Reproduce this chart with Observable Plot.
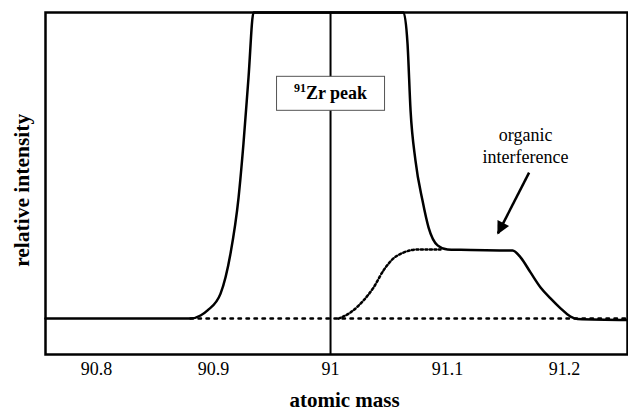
<!DOCTYPE html>
<html>
<head>
<meta charset="utf-8">
<script src="https://cdn.jsdelivr.net/npm/d3@7"></script>
<script src="https://cdn.jsdelivr.net/npm/@observablehq/plot@0.6"></script>
<style>
  html, body { margin: 0; padding: 0; background: #fff; }
  svg text { font-family: "Liberation Serif", "Times New Roman", "DejaVu Serif", serif !important; }
</style>
</head>
<body>
<div id="chart"></div>
<script>
// Measured signal (solid): atomic mass vs relative intensity (clipped at 100)
const solidMass = [90.7564, 90.8803, 90.8889, 90.8949, 90.9060, 90.9145, 90.9214, 90.9256, 90.9299, 90.9342,
  91.0624, 91.0658, 91.0684, 91.0726, 91.0786, 91.0838, 91.0915, 91.1000, 91.1111, 91.1556,
  91.1624, 91.1709, 91.1795, 91.1880, 91.1966, 91.2051, 91.2111, 91.2538];
const solidIntensity = [10.5, 10.5, 11.4, 12.9, 17.8, 29.5, 45.9, 61.7, 81.0, 100,
  100, 90.9, 71.3, 56.7, 45.0, 37.1, 31.9, 30.7, 30.6, 30.4,
  28.4, 24.0, 19.6, 16.4, 13.5, 11.1, 10.4, 10.1];

// Organic interference (dotted rising part)
const organicMass = [91.0068, 91.0171, 91.0282, 91.0368, 91.0453, 91.0538, 91.0624, 91.0744, 91.0940];
const organicIntensity = [10.5, 12.3, 15.8, 19.6, 24.6, 28.1, 29.8, 30.7, 30.7];

// Background (dotted baseline)
const baselineMass = [90.8803, 91.2538];
const baselineIntensity = [10.5, 10.5];

const xTicks = [90.8, 90.9, 91, 91.1, 91.2];
const xDomain = [90.7564, 91.2538];
const peakMass = 91;

// annotations
const peakLabel = {x: 91, y: 76.3, text: "Zr peak", sup: "91"};
const organicLabel = {x: 91.1667, y: 61.4, text: "organic\ninterference"};
const arrowData = [{x1: 91.1697, y1: 53.2, x2: 91.1431, y2: 35.4}];

const solid = solidMass.map((m, i) => ({m, v: solidIntensity[i]}));
const organic = organicMass.map((m, i) => ({m, v: organicIntensity[i]}));
const baseline = baselineMass.map((m, i) => ({m, v: baselineIntensity[i]}));

const serif = "Liberation Serif";

const chart = Plot.plot({
  width: 628,
  height: 410,
  marginLeft: 45,
  marginRight: 1,
  marginTop: 12,
  marginBottom: 56,
  style: {fontFamily: serif, background: "#fff", color: "#000", overflow: "visible"},
  x: {domain: xDomain},
  y: {domain: [0, 100], axis: null},
  marks: [
    Plot.axisX({ticks: xTicks, tickSize: 0, tickPadding: 8, fontSize: 18, fontFamily: serif, label: null, tickFormat: d => String(d)}),
    Plot.ruleX([peakMass], {stroke: "#000", strokeWidth: 2}),
    Plot.line(baseline, {x: "m", y: "v", stroke: "#000", strokeWidth: 2.5, strokeDasharray: "2.5,5.5"}),
    Plot.line(organic, {x: "m", y: "v", stroke: "#000", strokeWidth: 2.5, strokeDasharray: "2,2.5", curve: "monotone-x"}),
    Plot.line(solid, {x: "m", y: "v", stroke: "#000", strokeWidth: 2.5, curve: "monotone-x"}),
    Plot.frame({stroke: "#000", strokeWidth: 2.5}),
    Plot.link(arrowData, {x1: "x1", y1: "y1", x2: "x2", y2: "y2", stroke: "#000", strokeWidth: 2.5}),
    Plot.text([organicLabel], {x: "x", y: "y", text: "text", fontSize: 18, fontFamily: serif, lineHeight: 1.22, fill: "#000"}),
    Plot.text([peakLabel], {x: "x", y: "y", text: "text", fontSize: 18, fontFamily: serif, fontWeight: "bold", fill: "#000"}),
    Plot.text(["relative intensity"], {frameAnchor: "left", y: [48], text: d => d, rotate: -90, dx: -23, textAnchor: "middle", fontSize: 21.5, fontFamily: serif, fontWeight: "bold", fill: "#000"}),
    Plot.text(["atomic mass"], {frameAnchor: "bottom", text: d => d, dy: 52, dx: 8, fontSize: 21, fontFamily: serif, fontWeight: "bold", fill: "#000"})
  ]
});

document.getElementById("chart").appendChild(chart);

const svg = d3.select(chart);

// filled arrowhead marker
const defs = svg.insert("defs", ":first-child");
defs.append("marker")
  .attr("id", "arrowhead")
  .attr("viewBox", "0 0 10 10")
  .attr("refX", 9)
  .attr("refY", 5)
  .attr("markerUnits", "userSpaceOnUse")
  .attr("markerWidth", 16)
  .attr("markerHeight", 13)
  .attr("orient", "auto")
  .append("path")
  .attr("d", "M0,0L10,5L0,10z")
  .attr("fill", "#000");
svg.selectAll('g[aria-label="link"] path').attr("marker-end", "url(#arrowhead)");

// superscript + box for peak label
const labelText = svg.selectAll("text").filter(function () { return this.textContent === peakLabel.text; });
if (!labelText.empty()) {
  labelText.text(null);
  labelText.append("tspan").attr("font-size", 12).attr("dy", "-7").text(peakLabel.sup);
  labelText.append("tspan").attr("font-size", 18).attr("dy", "7").text(peakLabel.text);
  const node = labelText.node();
  const bb = node.getBBox();
  const cx = bb.x + bb.width / 2;
  const cy = bb.y + bb.height / 2;
  const boxW = 108, boxH = 34;
  const rect = document.createElementNS("http://www.w3.org/2000/svg", "rect");
  rect.setAttribute("x", cx - boxW / 2);
  rect.setAttribute("y", cy - boxH / 2 + 1);
  rect.setAttribute("width", boxW);
  rect.setAttribute("height", boxH);
  rect.setAttribute("fill", "#fff");
  rect.setAttribute("stroke", "#555");
  rect.setAttribute("stroke-width", 1);
  const tf = node.getAttribute("transform");
  if (tf) rect.setAttribute("transform", tf);
  if (!tf) {
    rect.setAttribute("x", (+node.getAttribute("x") || 0) + cx - boxW / 2);
    rect.setAttribute("y", (+node.getAttribute("y") || 0) + cy - boxH / 2 + 1);
  }
  node.parentNode.insertBefore(rect, node);
}
</script>
</body>
</html>
